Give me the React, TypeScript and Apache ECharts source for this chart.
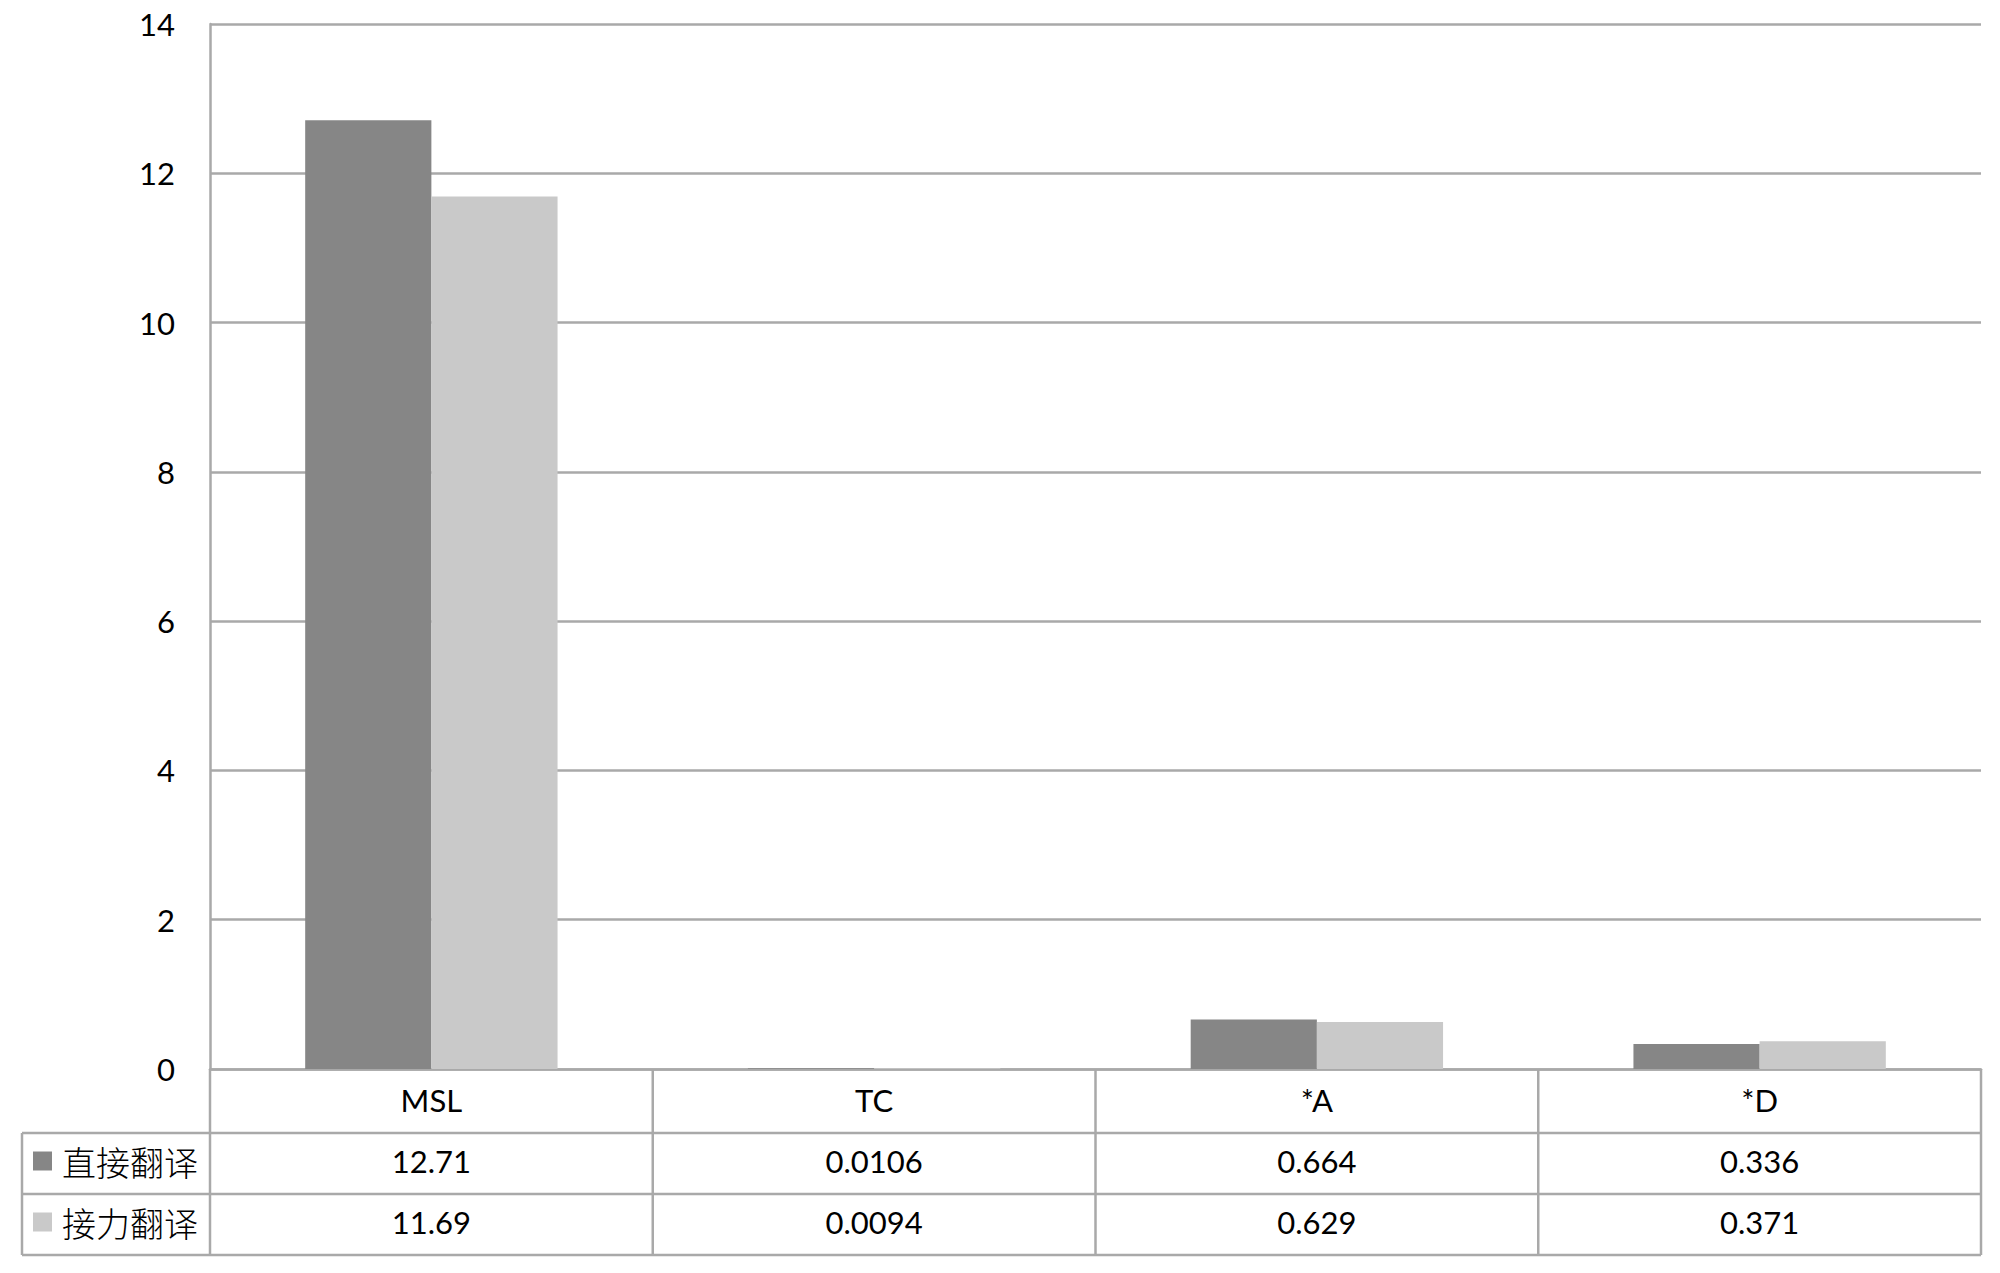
import React, { useEffect, useRef } from "react";
import * as echarts from "echarts";

const categories = ["MSL", "TC", "*A", "*D"];
const seriesNames = ["直接翻译", "接力翻译"];
const directValues = [12.71, 0.0106, 0.664, 0.336];
const relayValues = [11.69, 0.0094, 0.629, 0.371];
const directLabels = ["12.71", "0.0106", "0.664", "0.336"];
const relayLabels = ["11.69", "0.0094", "0.629", "0.371"];
const yTicks = [0, 2, 4, 6, 8, 10, 12, 14];

const W = 2000;
const H = 1273;
const GRID_LEFT = 210;
const GRID_RIGHT = 1981;
const GRID_TOP = 24;
const GRID_BOTTOM = 1069;
const ROW1 = 1133;
const ROW2 = 1194;
const ROW3 = 1255;
const TABLE_LEFT = 22;
const LINE_COLOR = "#a9a9a9";
const DARK = "#868686";
const LIGHT = "#c9c9c9";
const NUM_FONT = "Lato, 'Liberation Sans', sans-serif";
const CJK_FONT = "'Noto Sans CJK SC', sans-serif";

export default function App() {
  const ref = useRef<HTMLDivElement>(null);
  useEffect(() => {
    if (!ref.current) return;
    const chart = echarts.init(ref.current, undefined, { renderer: "svg", width: W, height: H });
    const colW = (GRID_RIGHT - GRID_LEFT) / categories.length;
    const lineStyle = { stroke: LINE_COLOR, lineWidth: 2.5 };
    const graphics: any[] = [];
    const hLine = (y: number, x1: number, x2: number) =>
      graphics.push({ type: "line", shape: { x1, y1: y, x2, y2: y }, style: lineStyle, silent: true });
    const vLine = (x: number, y1: number, y2: number) =>
      graphics.push({ type: "line", shape: { x1: x, y1, x2: x, y2 }, style: lineStyle, silent: true });
    hLine(ROW1, TABLE_LEFT, GRID_RIGHT);
    hLine(ROW2, TABLE_LEFT, GRID_RIGHT);
    hLine(ROW3, TABLE_LEFT, GRID_RIGHT);
    vLine(TABLE_LEFT, ROW1, ROW3);
    for (let i = 0; i <= categories.length; i++) {
      vLine(GRID_LEFT + i * colW, GRID_BOTTOM, ROW3);
    }
    const rowCenters = [(ROW1 + ROW2) / 2 - 2.5, (ROW2 + ROW3) / 2 - 2.5];
    const rowLabels = [directLabels, relayLabels];
    const colors = [DARK, LIGHT];
    seriesNames.forEach((name, r) => {
      graphics.push({
        type: "rect",
        shape: { x: 33, y: rowCenters[r] - 9.5, width: 19, height: 19 },
        style: { fill: colors[r] },
        silent: true,
      });
      graphics.push({
        type: "text",
        x: 62,
        y: rowCenters[r],
        style: {
          text: name,
          font: `300 34px ${CJK_FONT}`,
          fill: "#000",
          textAlign: "left",
          textVerticalAlign: "middle",
        },
        silent: true,
      });
      rowLabels[r].forEach((t, c) => {
        graphics.push({
          type: "text",
          x: GRID_LEFT + (c + 0.5) * colW,
          y: rowCenters[r],
          style: {
            text: t,
            font: `31px ${NUM_FONT}`,
            fill: "#000",
            textAlign: "center",
            textVerticalAlign: "middle",
          },
          silent: true,
        });
      });
    });

    chart.setOption({
      animation: false,
      backgroundColor: "#fff",
      grid: {
        left: GRID_LEFT,
        top: GRID_TOP,
        width: GRID_RIGHT - GRID_LEFT,
        height: GRID_BOTTOM - GRID_TOP,
        containLabel: false,
      },
      xAxis: {
        type: "category",
        data: categories,
        axisLine: { show: true, lineStyle: { color: LINE_COLOR, width: 2.5 } },
        axisTick: { show: false },
        axisLabel: {
          margin: 31,
          verticalAlign: "middle",
          color: "#000",
          fontSize: 31,
          fontFamily: NUM_FONT,
        },
      },
      yAxis: {
        type: "value",
        min: yTicks[0],
        max: yTicks[yTicks.length - 1],
        interval: 2,
        axisLine: { show: true, lineStyle: { color: LINE_COLOR, width: 2.5 } },
        axisTick: { show: false },
        splitLine: { show: true, lineStyle: { color: LINE_COLOR, width: 2.5 } },
        axisLabel: {
          margin: 35,
          color: "#000",
          fontSize: 31,
          fontFamily: NUM_FONT,
        },
      },
      series: [
        {
          name: seriesNames[0],
          type: "bar",
          data: directValues,
          itemStyle: { color: DARK },
          barGap: "0%",
          barCategoryGap: "43%",
        },
        {
          name: seriesNames[1],
          type: "bar",
          data: relayValues,
          itemStyle: { color: LIGHT },
          barGap: "0%",
          barCategoryGap: "43%",
        },
      ],
      graphic: graphics,
    });
    return () => chart.dispose();
  }, []);
  return (
    <div
      ref={ref}
      style={{ position: "fixed", left: 0, top: 0, width: W, height: H, background: "#fff" }}
    />
  );
}
